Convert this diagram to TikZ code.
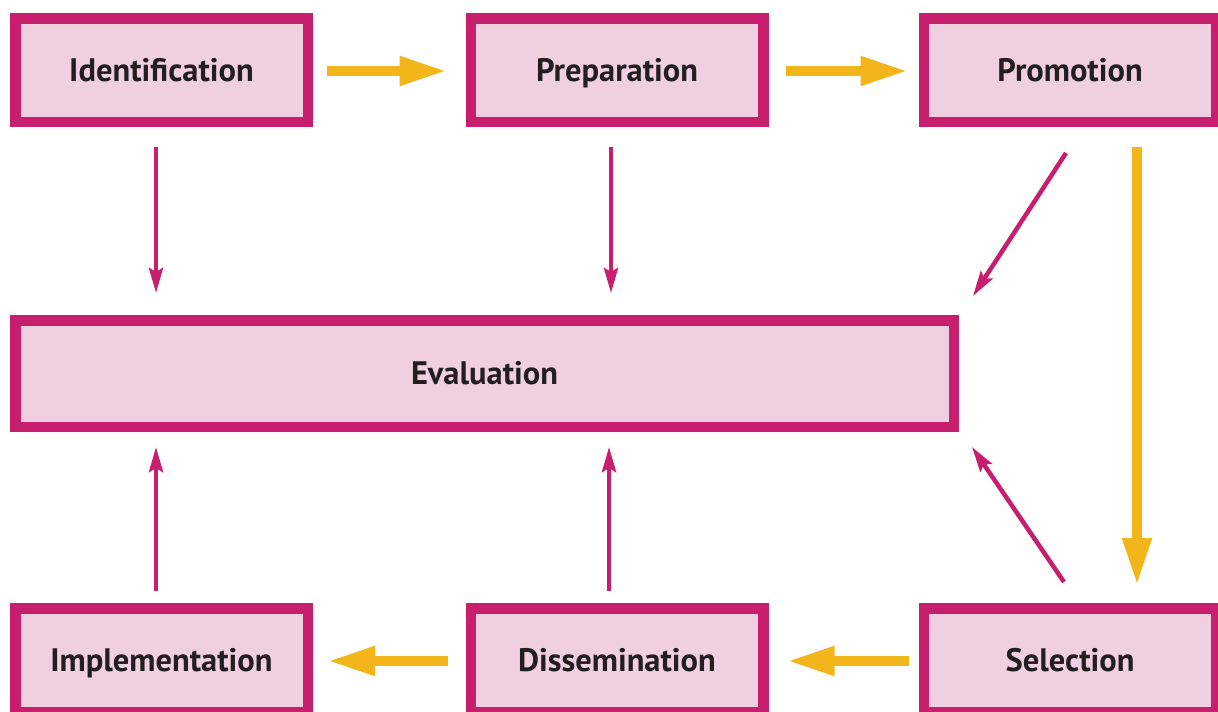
\documentclass[tikz,border=0pt]{standalone}
\usepackage{fontspec}
\setmainfont{PT Sans}
\usetikzlibrary{arrows.meta,calc}
\definecolor{mag}{RGB}{200,30,110}
\definecolor{pinkfill}{RGB}{240,208,224}
\definecolor{yel}{RGB}{242,181,26}
\definecolor{txt}{RGB}{35,31,32}
\begin{document}
\begin{tikzpicture}[x=1pt,y=-1pt,
  box/.style={draw=mag,fill=pinkfill,line width=10.5pt,minimum width=292.5pt,minimum height=103.5pt,
    inner sep=0pt,text=txt,text height=22.5pt,text depth=0pt,font=\fontsize{32.5}{38}\selectfont\bfseries},
  yarrow/.style={draw=yel,line width=10.5pt,-{Triangle[length=48pt,width=27pt]}},
  marrow/.style={draw=mag,line width=4.5pt,-{Stealth[length=25pt,width=14pt,inset=4pt]}}]
\useasboundingbox (0,0) rectangle (1218,712);
\node[box] (ident) at (161.5,70) {Identification};
\node[box] (prep) at (617,70) {Preparation};
\node[box] (promo) at (1070,70) {Promotion};
\node[box,minimum width=938.5pt,minimum height=106.5pt] (eval) at (484.5,373.5) {Evaluation};
\node[box] (impl) at (161.5,660) {Implementation};
\node[box] (diss) at (617,660) {Dissemination};
\node[box] (sel) at (1070,660) {Selection};
% yellow flow
\draw[yarrow,shorten <=14pt,shorten >=18pt] ([yshift=-1]ident.east) -- ([yshift=-1]prep.east -| prep.west);
\draw[yarrow,shorten <=17pt,shorten >=10pt] ([yshift=-1]prep.east) -- ([yshift=-1]promo.east -| promo.west);
\draw[yarrow] ($(promo.south)+(67,20)$) -- ($(sel.north)+(67,-17)$);
\draw[yarrow,shorten <=10pt,shorten >=18pt] ([yshift=-1]sel.west) -- ([yshift=-1]diss.west -| diss.east);
\draw[yarrow,shorten <=18pt,shorten >=14pt] ([yshift=-1]diss.west) -- ([yshift=-1]impl.west -| impl.east);
% magenta to evaluation
\draw[marrow] ($(ident.south)+(-5.5,20)$) -- ($(ident.south |- eval.north)+(-5.5,-22)$);
\draw[marrow] ($(prep.south)+(-6,20)$) -- ($(prep.south |- eval.north)+(-6,-22)$);
\draw[marrow] ($(promo.south)+(-4,26)$) -- ($(eval.north east)+(14,-19)$);
\draw[marrow] ($(sel.north)+(-6,-21)$) -- ($(eval.south east)+(13,15)$);
\draw[marrow] ($(diss.north)+(-8,-12)$) -- ($(diss.north |- eval.south)+(-8,15)$);
\draw[marrow] ($(impl.north)+(-5.5,-12)$) -- ($(impl.north |- eval.south)+(-5.5,15)$);
\end{tikzpicture}
\end{document}
